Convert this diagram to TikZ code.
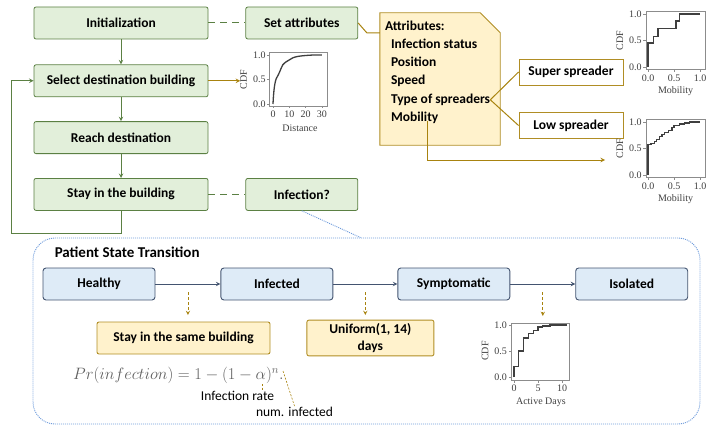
\documentclass[tikz,border=0pt]{standalone}
\usepackage{fontspec}
\setmainfont{Carlito}
\newfontfamily\plotfont{Liberation Serif}
\usepackage{tikz}
\usepackage{xcolor}
\usetikzlibrary{arrows, positioning, calc}

\definecolor{flowfill}{HTML}{E2EFDA}
\definecolor{flowline}{HTML}{5B8043}
\definecolor{goldcol}{HTML}{A8830F}
\definecolor{notefill}{HTML}{FFF2CC}
\definecolor{notedraw}{HTML}{B08D24}
\definecolor{statefill}{HTML}{DEEBF7}
\definecolor{stateline}{HTML}{435470}
\definecolor{dotblue}{HTML}{6E9BDB}
\definecolor{plotgray}{HTML}{3F3F3F}
\definecolor{framegray}{HTML}{8C8C8C}
\definecolor{formulagray}{HTML}{5F5F5F}

\newcommand{\flowfont}{\bfseries\fontsize{13.5}{17}\selectfont}
\newcommand{\plainfont}{\fontsize{13.5}{16}\selectfont}

\tikzstyle{flowbox} = [rectangle, rounded corners=2pt, minimum width=174pt, minimum height=32pt, text centered, draw=flowline, fill=flowfill, line width=0.8pt, font=\flowfont]
\tikzstyle{sidebox} = [flowbox, minimum width=112pt]
\tikzstyle{statebox} = [rectangle, rounded corners=3pt, minimum width=112pt, minimum height=32pt, text centered, draw=stateline, fill=statefill, line width=0.9pt, font=\flowfont]
\tikzstyle{yellowbox} = [rectangle, rounded corners=2pt, minimum height=32pt, text centered, align=center, draw=notedraw, fill=notefill, line width=0.9pt, font=\flowfont]
\tikzstyle{spreaderbox} = [rectangle, minimum width=104pt, minimum height=26pt, text centered, draw=notedraw, fill=white, line width=0.9pt, font=\flowfont]
\tikzstyle{attrtext} = [anchor=west, inner sep=0pt, text height=9.5pt, text depth=3pt, font=\flowfont]
\tikzstyle{container} = [rectangle, rounded corners=22pt, minimum width=667pt, minimum height=186pt, draw=dotblue, line width=0.9pt, dash pattern=on 1pt off 1pt]
\tikzstyle{smalltext} = [inner sep=1pt, font=\plainfont]
\tikzstyle{arrow} = [line width=1pt, draw=flowline, ->, >=stealth]
\tikzstyle{greendash} = [line width=1pt, draw=flowline, dash pattern=on 7pt off 5pt]
\tikzstyle{goldarrow} = [line width=1pt, draw=goldcol, ->, >=stealth]
\tikzstyle{goldlink} = [line width=1pt, draw=goldcol]
\tikzstyle{golddash} = [line width=0.9pt, draw=goldcol, dash pattern=on 3pt off 2pt, ->, >=stealth]
\tikzstyle{goldthin} = [line width=0.6pt, draw=goldcol, dash pattern=on 2pt off 1.5pt]
\tikzstyle{statearrow} = [line width=1pt, draw=stateline, ->, >=stealth]
\tikzstyle{bluedot} = [line width=0.9pt, draw=dotblue, dash pattern=on 1pt off 1pt]
\tikzstyle{plotframe} = [line width=0.6pt, draw=framegray]
\tikzstyle{cdfline} = [line width=1.3pt, draw=plotgray]
\tikzstyle{ticklabel} = [inner sep=0pt, text=plotgray, font=\plotfont\fontsize{10}{10}\selectfont]
\tikzstyle{axislabel} = [inner sep=0pt, text=plotgray, font=\plotfont\fontsize{10}{10}\selectfont]

\begin{document}
\begin{tikzpicture}[x=1pt, y=-1pt, node distance=24pt]
\useasboundingbox (0,0) rectangle (709,428);

% Movement loop
\node (init) [flowbox] at (121,23) {Initialization};
\node (select) [flowbox, below=25pt of init] {Select destination building};
\node (reach) [flowbox, below=24pt of select] {Reach destination};
\node (stay) [flowbox, below=24pt of reach] {Stay in the building};

% Side boxes
\node (setattr) [sidebox, right=37pt of init] {Set attributes};
\node (infq) [sidebox, right=37pt of stay] {Infection?};

% Attribute note
\node (attrs) [inner sep=0pt, minimum width=120pt, minimum height=132pt] at (440,79) {};
\draw [draw=notedraw, fill=notefill, line width=0.9pt] (attrs.north west) -- ([xshift=-20pt]attrs.north east) -- ([yshift=-20pt]attrs.north east) -- (attrs.south east) -- (attrs.south west) -- cycle;
\node (attr-title) [attrtext] at ([xshift=5pt, yshift=-14pt]attrs.north west) {Attributes:};
\node (attr-status) [attrtext] at ([xshift=6pt, yshift=-18pt]attr-title.west) {Infection status};
\node (attr-pos) [attrtext] at ([yshift=-18pt]attr-status.west) {Position};
\node (attr-speed) [attrtext] at ([yshift=-18pt]attr-pos.west) {Speed};
\node (attr-type) [attrtext] at ([yshift=-19pt]attr-speed.west) {Type of spreaders};
\node (attr-mob) [attrtext] at ([yshift=-18pt]attr-type.west) {Mobility};

% Spreader types
\node (super) [spreaderbox] at (571,72) {Super spreader};
\node (low) [spreaderbox] at (571,125.5) {Low spreader};
\coordinate (mob-end) at (605,160);

% Distance CDF
\begin{scope}[shift={(273,104)}, x=1.633pt, y=49pt]
  \draw [plotframe] (-2,-0.04) rectangle (33,1.06);
  \foreach \v in {0.0,0.5,1.0} {
    \draw [plotframe] (-2,\v) -- ++(-2.5pt,0);
    \node [ticklabel, anchor=east] at ([xshift=-4pt]-2,\v) {\v};
  }
  \foreach \xt in {0,10,20,30} {
    \draw [plotframe] (\xt,-0.04) -- ++(0,-2.5pt);
    \node [ticklabel, anchor=north] at ([yshift=-5pt]\xt,-0.04) {\xt};
  }
  \node (dist-ylab) [axislabel, rotate=90] at ([xshift=-26pt]-2,0.5) {CDF};
  \node (dist-xlab) [axislabel] at ([yshift=-22pt]16.5,-0.04) {Distance};
  \draw [cdfline] plot[smooth] coordinates {(0,0) (0.2,0.12) (0.6,0.28) (1.2,0.42) (2,0.52) (3,0.58) (4,0.65) (5,0.73) (6,0.8) (8,0.86) (10,0.9) (12,0.94) (15,0.97) (20,0.99) (25,1.0) (30,1.0)};
\end{scope}

% Super spreader CDF
\begin{scope}[shift={(648,67)}, x=52pt, y=53pt]
  \draw [plotframe] (-0.04,-0.05) rectangle (1.1,1.05);
  \foreach \v in {0.0,0.5,1.0} {
    \draw [plotframe] (-0.04,\v) -- ++(-2.5pt,0);
    \node [ticklabel, anchor=east] at ([xshift=-4pt]-0.04,\v) {\v};
    \draw [plotframe] (\v,-0.05) -- ++(0,-2.5pt);
    \node [ticklabel, anchor=north] at ([yshift=-5pt]\v,-0.05) {\v};
  }
  \node (super-ylab) [axislabel, rotate=90] at ([xshift=-26pt]-0.04,0.5) {CDF};
  \node (super-xlab) [axislabel] at ([yshift=-21pt]0.53,-0.05) {Mobility};
  \draw [cdfline] (0,0) -- (0,0.45) -- (0.1,0.45) -- (0.1,0.58) -- (0.19,0.58) -- (0.19,0.72) -- (0.54,0.72) -- (0.54,0.87) -- (0.61,0.87) -- (0.61,1) -- (1,1);
\end{scope}

% Low spreader CDF
\begin{scope}[shift={(648,175)}, x=52pt, y=53pt]
  \draw [plotframe] (-0.04,-0.05) rectangle (1.1,1.05);
  \foreach \v in {0.0,0.5,1.0} {
    \draw [plotframe] (-0.04,\v) -- ++(-2.5pt,0);
    \node [ticklabel, anchor=east] at ([xshift=-4pt]-0.04,\v) {\v};
    \draw [plotframe] (\v,-0.05) -- ++(0,-2.5pt);
    \node [ticklabel, anchor=north] at ([yshift=-5pt]\v,-0.05) {\v};
  }
  \node (low-ylab) [axislabel, rotate=90] at ([xshift=-26pt]-0.04,0.5) {CDF};
  \node (low-xlab) [axislabel] at ([yshift=-21pt]0.53,-0.05) {Mobility};
  \draw [cdfline] (0,0) -- (0,0.58) -- (0.06,0.58) -- (0.06,0.6) -- (0.12,0.6) -- (0.12,0.63) -- (0.17,0.63) -- (0.17,0.67) -- (0.22,0.67) -- (0.22,0.73) -- (0.27,0.73) -- (0.27,0.76) -- (0.32,0.76) -- (0.32,0.8) -- (0.4,0.8) -- (0.4,0.84) -- (0.46,0.84) -- (0.46,0.89) -- (0.5,0.89) -- (0.5,0.93) -- (0.6,0.93) -- (0.6,0.96) -- (0.7,0.96) -- (0.7,0.98) -- (0.8,0.98) -- (0.8,1) -- (1,1);
\end{scope}

% Patient state transition
\node (pst) [container] at (366.5,331) {};
\node (pst-title) [anchor=west, inner sep=0pt, font=\bfseries\fontsize{15}{18}\selectfont] at ([xshift=22pt, yshift=-15pt]pst.north west) {Patient State Transition};
\node (healthy) [statebox] at (99,284) {Healthy};
\node (infected) [statebox, right=65pt of healthy] {Infected};
\node (symptomatic) [statebox, right=64pt of infected] {Symptomatic};
\node (isolated) [statebox, right=65pt of symptomatic] {Isolated};
\coordinate (h-i) at ($(healthy.east)!0.5!(infected.west)$);
\coordinate (i-s) at ($(infected.east)!0.5!(symptomatic.west)$);
\coordinate (s-o) at ($(symptomatic.east)!0.5!(isolated.west)$);

\node (samebldg) [yellowbox, minimum width=173pt] at (183.5,338) {Stay in the same building};
\node (uniform) [yellowbox, minimum width=127pt, right=36pt of samebldg] {Uniform(1, 14)\\days};

% Active days CDF
\begin{scope}[shift={(514,377)}, x=4.8pt, y=52pt]
  \draw [plotframe] (-0.6,-0.06) rectangle (11.5,1.04);
  \foreach \v in {0.0,0.5,1.0} {
    \draw [plotframe] (-0.6,\v) -- ++(-2.5pt,0);
    \node [ticklabel, anchor=east] at ([xshift=-4pt]-0.6,\v) {\v};
  }
  \foreach \xt in {0,5,10} {
    \draw [plotframe] (\xt,-0.06) -- ++(0,-2.5pt);
    \node [ticklabel, anchor=north] at ([yshift=-5pt]\xt,-0.06) {\xt};
  }
  \node (days-ylab) [axislabel, rotate=90] at ([xshift=-26pt]-0.6,0.5) {CDF};
  \node (days-xlab) [axislabel] at ([yshift=-22pt]5.6,-0.06) {Active Days};
  \draw [cdfline] (0,0) -- (0,0.2) -- (1,0.2) -- (1,0.5) -- (2,0.5) -- (2,0.75) -- (3,0.75) -- (3,0.84) -- (4,0.84) -- (4,0.9) -- (5,0.9) -- (5,0.96) -- (6,0.96) -- (6,0.98) -- (7.5,0.98) -- (7.5,1) -- (11,1);
\end{scope}

% Infection probability
\node (formula) [anchor=base west, inner sep=0pt, text=formulagray, font=\fontsize{17.28}{20}\selectfont] at (73,379) {\scalebox{0.955}{$Pr(infection) = 1 - (1-\alpha)^n.$}};
\coordinate (alpha-pt) at (262,384);
\coordinate (n-pt) at (283,371);
\node (rate) [smalltext] at (237.5,396) {Infection rate};
\node (numinf) [smalltext] at (294.5,412) {num. infected};

% Arrows
\draw [arrow] (init) -- (select);
\draw [arrow] (select) -- (reach);
\draw [arrow] (reach) -- (stay);
\draw [arrow] (stay.south) -- ++(0,23) -| ([xshift=-22pt]select.west) -- (select.west);
\draw [greendash] (init) -- (setattr);
\draw [greendash] (stay) -- (infq);
\draw [goldarrow] (select.east) -- (select.east -| dist-ylab.north);
\draw [goldlink] (setattr.east) -- ([xshift=-13pt, yshift=-20pt]attrs.north west) -- ([yshift=-20pt]attrs.north west);
\draw [goldlink] (attr-type.east) -- (super.west);
\draw [goldlink] (attr-type.east) -- (low.west);
\draw [goldarrow] ([xshift=-11pt, yshift=3pt]attr-mob.south east) |- (mob-end);
\draw [bluedot] (infq.south) -- ([xshift=-6pt]pst.north);

\draw [statearrow] (healthy) -- (infected);
\draw [statearrow] (infected) -- (symptomatic);
\draw [statearrow] (symptomatic) -- (isolated);
\draw [golddash] ([yshift=-8pt]h-i) -- ([yshift=-31pt]h-i);
\draw [golddash] ([yshift=-8pt]i-s) -- ([yshift=-31pt]i-s);
\draw [golddash] ([yshift=-8pt]s-o) -- ([yshift=-32pt]s-o);
\draw [goldthin] (alpha-pt) -- (alpha-pt |- rate.north);
\draw [goldthin] (n-pt) -- (numinf.north);

\end{tikzpicture}
\end{document}
